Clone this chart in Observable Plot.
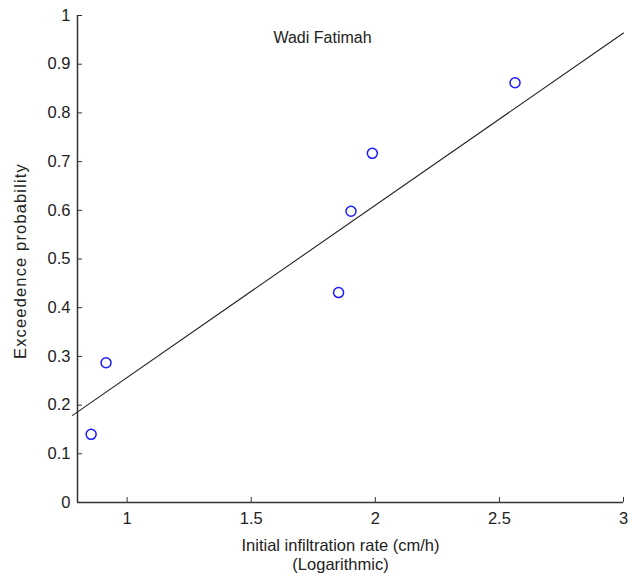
<!DOCTYPE html>
<html>
<head>
<meta charset="utf-8">
<script src="https://cdn.jsdelivr.net/npm/d3@7"></script>
<script src="https://cdn.jsdelivr.net/npm/@observablehq/plot@0.6"></script>
<style>
  html, body { margin: 0; padding: 0; background: #fff; }
  svg { font-family: "Liberation Sans", Arial, sans-serif; }
  .ylab text { letter-spacing: 1.15px; }
</style>
</head>
<body>
<div id="chart"></div>
<script>
// Observed sites: log initial infiltration rate vs. exceedence probability
const rateLog = [0.855, 0.915, 1.852, 1.902, 1.988, 2.563];
const exceedence = [0.140, 0.287, 0.431, 0.598, 0.717, 0.862];

// Fitted line endpoints
const fitX = [0.78, 3];
const fitY = [0.179, 0.964];

const xTicks = [1, 1.5, 2, 2.5, 3];
const yTicks = [0, 0.1, 0.2, 0.3, 0.4, 0.5, 0.6, 0.7, 0.8, 0.9, 1];
const xTickLabels = ["1", "1.5", "2", "2.5", "3"];
const yTickLabels = ["0", "0.1", "0.2", "0.3", "0.4", "0.5", "0.6", "0.7", "0.8", "0.9", "1"];

const siteName = "Wadi Fatimah";

const points = rateLog.map((x, i) => ({x, y: exceedence[i]}));
const fit = fitX.map((x, i) => ({x, y: fitY[i]}));

const chart = Plot.plot({
  width: 629,
  height: 579,
  marginLeft: 77,
  marginRight: 6,
  marginTop: 15,
  marginBottom: 77,
  style: {fontSize: "16px", fontFamily: "Liberation Sans, Arial, sans-serif", color: "#222"},
  x: {domain: [0.8, 3]},
  y: {domain: [0, 1]},
  marks: [
    Plot.axisX({ticks: xTicks, tickFormat: d => xTickLabels[xTicks.indexOf(d)], tickSize: -5, tickPadding: 15, stroke: "#333", fontSize: 16.5, label: null}),
    Plot.axisY({ticks: yTicks, tickFormat: d => yTickLabels[yTicks.indexOf(d)], tickSize: -5, tickPadding: 12, stroke: "#333", fontSize: 16.5, label: null}),
    Plot.ruleY([0], {stroke: "#333", strokeWidth: 1.5}),
    Plot.ruleX([0.8], {stroke: "#333", strokeWidth: 1.5}),
    Plot.line(fit, {x: "x", y: "y", stroke: "#222", strokeWidth: 1.1}),
    Plot.dot(points, {x: "x", y: "y", r: 5, stroke: "#1a1aff", strokeWidth: 1.5, fill: "none"}),
    Plot.text([siteName], {frameAnchor: "top", textAnchor: "middle", dx: -28, dy: 16, fontSize: 16, fill: "#222"}),
    Plot.text(["Exceedence probability"], {className: "ylab", frameAnchor: "left", textAnchor: "middle", dx: -57, dy: 2, rotate: -90, fontSize: 16.5, fill: "#222"}),
    Plot.text(["Initial infiltration rate (cm/h)"], {frameAnchor: "bottom", dx: -10, dy: 48, fontSize: 16.5, fill: "#222"}),
    Plot.text(["(Logarithmic)"], {frameAnchor: "bottom", dx: -10, dy: 67, fontSize: 16.5, fill: "#222"})
  ]
});
document.getElementById("chart").appendChild(chart);
</script>
</body>
</html>
